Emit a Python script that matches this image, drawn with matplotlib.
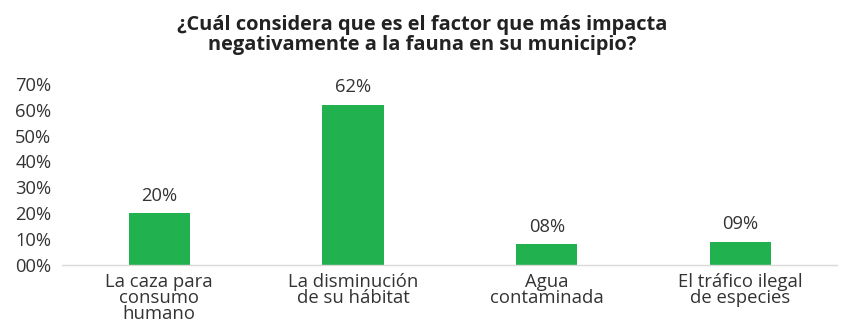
import matplotlib.pyplot as plt

plt.rcParams['font.family'] = ['Open Sans', 'DejaVu Sans']

# datos de la encuesta
categorias = ['La caza para\nconsumo\nhumano', 'La disminución\nde su hábitat',
              'Agua\ncontaminada', 'El tráfico ilegal\nde especies']
porcentajes = [20, 62, 8, 9]
ticks_y = [0, 10, 20, 30, 40, 50, 60, 70]

verde = '#22b14f'
texto = '#333333'

fig = plt.figure(figsize=(8.44, 3.23), dpi=100)
ax = fig.add_axes([0.074, 0.18, 0.918, 0.56])

x = range(len(categorias))
ax.bar(x, porcentajes, width=0.315, color=verde)

for i, v in zip(x, porcentajes):
    ax.text(i, v + 3.3, f'{v:02d}%', ha='center', va='bottom', fontsize=13.2, color=texto)

ax.set_xlim(-0.5, len(categorias) - 0.5)
ax.set_ylim(0, 70)
ax.set_yticks(ticks_y)
ax.set_yticklabels([f'{t:02d}%' for t in ticks_y])
ax.set_xticks(list(x))
ax.set_xticklabels(categorias, linespacing=0.85, va='top')

ax.tick_params(axis='y', length=0, pad=8, labelsize=13.2, labelcolor=texto)
ax.tick_params(axis='x', length=0, pad=6, labelsize=13.3, labelcolor=texto)

for lado in ['top', 'right', 'left']:
    ax.spines[lado].set_visible(False)
ax.spines['bottom'].set_color('#d9d9d9')
ax.spines['bottom'].set_linewidth(1)

fig.text(0.5, 0.955, '¿Cuál considera que es el factor que más impacta\nnegativamente a la fauna en su municipio?',
         ha='center', va='top', fontsize=14.4, fontweight='bold', color='#222222', linespacing=1.0)

fig.savefig('out.png', dpi=100)
